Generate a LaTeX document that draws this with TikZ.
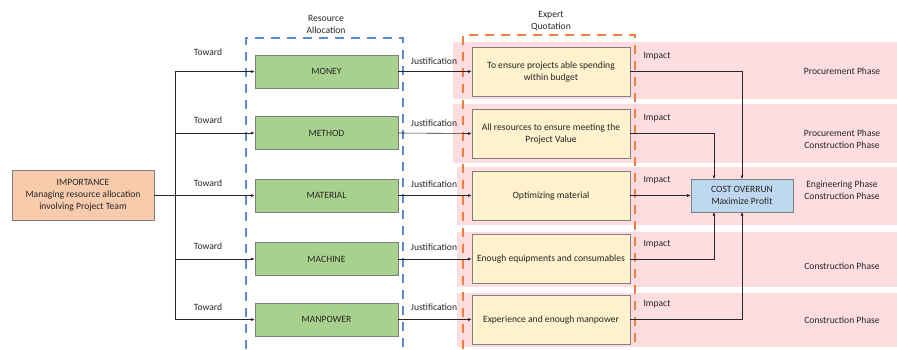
\documentclass[tikz,border=0pt]{standalone}
\usepackage{fontspec}
\setmainfont{Carlito}
\usetikzlibrary{arrows.meta}
\definecolor{greenfill}{HTML}{A9D18E}
\definecolor{yellowfill}{HTML}{FFF2CC}
\definecolor{orangefill}{HTML}{F8CBAD}
\definecolor{bluefill}{HTML}{BDD7EE}
\definecolor{pinkband}{HTML}{FDDDE0}
\definecolor{bluedash}{HTML}{5B8BD6}
\definecolor{orangedash}{HTML}{F07F3C}
\definecolor{boxline}{HTML}{7F7F7F}
\definecolor{textcol}{HTML}{262626}
\begin{document}
\begin{tikzpicture}[x=1pt,y=-1pt,
  font=\fontsize{9.6}{12}\selectfont, text=textcol,
  box/.style={draw=boxline, line width=0.7pt, align=center, inner sep=1pt},
  resbox/.style={box, fill=greenfill, minimum width=143pt, minimum height=33pt},
  quotebox/.style={box, fill=yellowfill, minimum width=158pt, minimum height=49pt},
  lbl/.style={inner sep=0pt, align=center},
  conn/.style={draw=black!85, line width=0.6pt},
  arr/.style={conn, -{Latex[length=3.5pt,width=3pt]}},
  band/.style={fill=pinkband, draw=none},
  grp/.style={line width=1.6pt, dash pattern=on 9pt off 7pt}
]
\useasboundingbox (0,0) rectangle (897,349);
% pink bands
\fill[band] (453,42) rectangle (897,99);
\fill[band] (453,104) rectangle (897,163);
\fill[band] (457,167) rectangle (897,225);
\fill[band] (457,232) rectangle (897,287);
\fill[band] (457,293) rectangle (897,347);

% group frames
\draw[grp, bluedash] (246,349) -- (246,38) -- (403,38) -- (403,349);
\draw[grp, orangedash] (463,349) -- (463,35) -- (635,35) -- (635,349);
\node[lbl] (ratitle) at (326,24) {Resource\\Allocation};
\node[lbl] (eqtitle) at (551,21) {Expert\\Quotation};

% importance
\node[box, fill=orangefill, minimum width=142pt, minimum height=50pt] (imp) at (83,195) {IMPORTANCE\\Managing resource allocation\\involving Project Team};

% resource boxes
\node[resbox] (money) at (326.5,71.5) {MONEY};
\node[resbox] (method) at (326.5,133) {METHOD};
\node[resbox] (material) at (326.5,195.5) {MATERIAL};
\node[resbox] (machine) at (326.5,259) {MACHINE};
\node[resbox] (manpower) at (326.5,319.5) {MANPOWER};

% quote boxes
\node[quotebox] (q1) at (551,71.5) {To ensure projects able spending\\within budget};
\node[quotebox] (q2) at (551,133.5) {All resources to ensure meeting the\\Project Value};
\node[quotebox] (q3) at (551,195.5) {Optimizing material};
\node[quotebox] (q4) at (551,259) {Enough equipments and consumables};
\node[quotebox] (q5) at (551,319.5) {Experience and enough manpower};

% cost overrun
\node[box, fill=bluefill, minimum width=102pt, minimum height=33pt] (cost) at (742,195.5) {COST OVERRUN\\Maximize Profit};

% trunk
\coordinate (trunktop) at (175,71.5);
\coordinate (trunkbot) at (175,319.5);
\draw[conn] (imp.east) -- (175,195);
\draw[conn] (trunktop) -- (trunkbot);
\draw[arr] (trunktop) -- (money.west);
\draw[arr] (175,133) -- (method.west);
\draw[arr] (175,195.5) -- (material.west);
\draw[arr] (175,259) -- (machine.west);
\draw[arr] (trunkbot) -- (manpower.west);

\node[lbl] (t1) at (208,52) {Toward};
\node[lbl] (t2) at (208,120) {Toward};
\node[lbl] (t3) at (208,183) {Toward};
\node[lbl] (t4) at (208,246) {Toward};
\node[lbl] (t5) at (208,307) {Toward};

% justification
\draw[arr] (money.east) -- (q1.west);
\draw[arr] (method.east) -- (q2.west);
\draw[arr] (material.east) -- (q3.west);
\draw[arr] (machine.east) -- (q4.west);
\draw[arr] (manpower.east) -- (q5.west);
\node[lbl] (j1) at (434,61) {Justification};
\node[lbl] (j2) at (434,123) {Justification};
\node[lbl] (j3) at (434,184) {Justification};
\node[lbl] (j4) at (434,247) {Justification};
\node[lbl] (j5) at (434,307) {Justification};

% impact
\draw[arr] (q1.east) -| (742,179);
\draw[arr] (q2.east) -| (714,179);
\draw[arr] (q3.east) -- (cost.west);
\draw[arr] (q4.east) -| (714,212);
\draw[arr] (q5.east) -| (742,212);
\node[lbl] (i1) at (657,56) {Impact};
\node[lbl] (i2) at (657,118) {Impact};
\node[lbl] (i3) at (657,180) {Impact};
\node[lbl] (i4) at (657,244) {Impact};
\node[lbl] (i5) at (657,304) {Impact};

% phases
\node[lbl] (p1) at (842,71) {Procurement Phase};
\node[lbl] (p2) at (842,139.5) {Procurement Phase\\Construction Phase};
\node[lbl] (p3) at (842,190) {Engineering Phase\\Construction Phase};
\node[lbl] (p4) at (842,266) {Construction Phase};
\node[lbl] (p5) at (842,320) {Construction Phase};
\end{tikzpicture}
\end{document}
